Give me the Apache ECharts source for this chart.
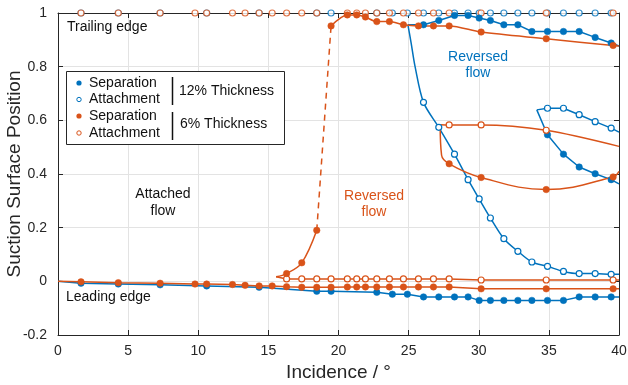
<!DOCTYPE html>
<html>
<head>
<meta charset="utf-8">
<script src="https://cdn.jsdelivr.net/npm/echarts@6/dist/echarts.min.js"></script>
<style>html,body{margin:0;padding:0;background:#fff}#c{width:628px;height:385px}</style>
</head>
<body>
<div id="c"></div>
<script>
// ---------- data ----------
const xTicks = [0, 5, 10, 15, 20, 25, 30, 35, 40];
const yTicks = [-0.2, 0, 0.2, 0.4, 0.6, 0.8, 1];

// 12% thickness (blue)
const b12SepLowX = [0, 1.64, 4.30, 7.28, 10.6, 14.34, 18.45, 19.47, 22.73, 23.84, 24.91, 26.06, 27.15, 28.27, 29.24, 30.03, 30.83, 31.79, 32.79, 33.79, 34.9, 36.04, 37.16, 38.3, 39.44, 40];
const b12SepLowY = [0, -0.007, -0.01, -0.013, -0.017, -0.022, -0.037, -0.037, -0.041, -0.048, -0.048, -0.058, -0.058, -0.058, -0.058, -0.071, -0.071, -0.071, -0.071, -0.071, -0.071, -0.071, -0.058, -0.058, -0.058, -0.058];
const b12AttTopX = [1.64, 4.30, 7.28, 10.6, 14.34, 18.45, 19.47, 22.73, 23.84, 24.91, 26.06, 27.15, 28.27, 29.24, 30.03, 30.83, 31.79, 32.79, 33.79, 34.9, 36.04, 37.16, 38.3, 39.44];
const b12AttTopY = b12AttTopX.map(() => 1);
const b12SepUpX = [24.95, 26.06, 27.15, 28.27, 29.24, 30.03, 30.83, 31.79, 32.79, 33.79, 34.9, 36.04, 37.16, 38.3, 39.44, 40];
const b12SepUpY = [0.956, 0.956, 0.972, 0.991, 0.991, 0.981, 0.972, 0.956, 0.956, 0.931, 0.931, 0.931, 0.931, 0.909, 0.888, 0.877];
const b12AttMidX = [24.95, 25.18, 25.46, 26.06, 27.15, 28.27, 29.24, 30.03, 30.83, 31.79, 32.79, 33.79, 34.9, 36.04, 37.16, 38.3, 39.44, 40];
const b12AttMidY = [0.956, 0.888, 0.80, 0.667, 0.574, 0.474, 0.379, 0.307, 0.236, 0.159, 0.112, 0.072, 0.056, 0.037, 0.029, 0.029, 0.026, 0.026];
const b12Bub2AttX = [34.14, 34.9, 36.04, 37.16, 38.3, 39.44, 40];
const b12Bub2AttY = [0.639, 0.645, 0.645, 0.621, 0.595, 0.571, 0.556];
const b12Bub2SepX = [34.14, 34.9, 36.04, 37.16, 38.3, 39.44, 40];
const b12Bub2SepY = [0.639, 0.546, 0.474, 0.426, 0.401, 0.379, 0.363];

// 6% thickness (orange)
const o6SepLowX = [0, 1.64, 4.30, 7.28, 9.77, 10.6, 12.44, 13.34, 14.34, 15.27, 16.3, 17.38, 18.45, 19.47, 20.63, 21.3, 21.92, 22.73, 23.63, 24.63, 25.7, 26.77, 27.89, 30.17, 34.81, 39.58, 40];
const o6SepLowY = [0, -0.002, -0.005, -0.007, -0.01, -0.01, -0.012, -0.015, -0.017, -0.017, -0.02, -0.022, -0.022, -0.022, -0.021, -0.021, -0.021, -0.021, -0.021, -0.021, -0.021, -0.021, -0.021, -0.028, -0.028, -0.028, -0.028];
const o6AttTopX = [1.64, 4.30, 7.28, 9.77, 10.6, 12.44, 13.34, 14.34, 15.27, 16.3, 17.38, 18.45, 20.63, 21.3, 21.92, 22.73, 23.63, 24.63, 25.7, 26.77, 27.89, 30.17, 34.81, 39.58];
const o6AttTopY = o6AttTopX.map(() => 1);
const o6BubX = [15.55, 16.3, 17.38, 18.45];
const o6BubY = [0.017, 0.029, 0.069, 0.19];
const o6JumpX = [18.45, 19.47];
const o6JumpY = [0.19, 0.952];
const o6SepUpX = [19.47, 20.63, 21.3, 21.92, 22.73, 23.63, 24.63, 25.7, 26.77, 27.89, 30.17, 34.81, 39.58, 40];
const o6SepUpY = [0.952, 0.993, 0.993, 0.985, 0.968, 0.968, 0.956, 0.952, 0.952, 0.952, 0.929, 0.904, 0.879, 0.877];
const o6AttLowX = [15.55, 16.3, 17.38, 18.45, 19.47, 20.63, 21.3, 21.92, 22.73, 23.63, 24.63, 25.7, 26.77, 27.89, 30.17, 34.81, 39.58, 40];
const o6AttLowY = [0.017, 0.009, 0.009, 0.009, 0.009, 0.009, 0.009, 0.009, 0.009, 0.009, 0.009, 0.009, 0.009, 0.009, 0.005, 0.005, 0.005, 0.005];
const o6MidAttX = [27.25, 27.89, 30.17, 34.81, 40];
const o6MidAttY = [0.584, 0.583, 0.583, 0.563, 0.503];
const o6MidSepX = [27.25, 27.35, 27.89, 30.17, 34.81, 39.58, 40];
const o6MidSepY = [0.584, 0.47, 0.438, 0.387, 0.342, 0.389, 0.41];

// ---------- styling ----------
const BLUE = '#0072BD', ORANGE = '#D95319', INK = '#262626';
const FONT = '"Liberation Sans", Arial, Helvetica, sans-serif';

function pts(xs, ys, hidden) {
  return xs.map((x, i) => {
    const d = { value: [x, ys[i]] };
    if (hidden && hidden.includes(i)) d.symbolSize = 0;
    return d;
  });
}
function lineSeries(xs, ys, color, filled, hidden, opts) {
  return Object.assign({
    type: 'line',
    data: pts(xs, ys, hidden),
    symbol: 'circle',
    symbolSize: filled ? 6.5 : 6,
    showAllSymbol: true,
    clip: false,
    lineStyle: { color: color, width: 1.5 },
    itemStyle: filled ? { color: color, borderColor: color, borderWidth: 0.5 }
                      : { color: '#fff', borderColor: color, borderWidth: 1.2 },
    emphasis: { disabled: true },
    silent: true
  }, opts || {});
}
function dotSeries(xs, ys, color) {
  return {
    type: 'scatter', data: pts(xs, ys), symbol: 'circle', symbolSize: 6, clip: false,
    itemStyle: { color: '#fff', borderColor: color, borderWidth: 1.2 },
    emphasis: { disabled: true }, silent: true
  };
}
const last = a => a.length - 1;

const series = [
  lineSeries(b12SepLowX, b12SepLowY, BLUE, true, [0, last(b12SepLowX)]),
  dotSeries(b12AttTopX, b12AttTopY, BLUE),
  lineSeries(b12SepUpX, b12SepUpY, BLUE, true, [0, last(b12SepUpX)]),
  lineSeries(b12AttMidX, b12AttMidY, BLUE, false, [0, 1, 2, last(b12AttMidX)], { smooth: 0.3 }),
  lineSeries(b12Bub2AttX, b12Bub2AttY, BLUE, false, [0, last(b12Bub2AttX)]),
  lineSeries(b12Bub2SepX, b12Bub2SepY, BLUE, true, [0, last(b12Bub2SepX)]),

  lineSeries(o6SepLowX, o6SepLowY, ORANGE, true, [0, last(o6SepLowX)]),
  dotSeries(o6AttTopX, o6AttTopY, ORANGE),
  lineSeries(o6AttLowX, o6AttLowY, ORANGE, false, [0, last(o6AttLowX)]),
  lineSeries(o6BubX, o6BubY, ORANGE, true, [0], { smooth: 0.35 }),
  lineSeries(o6JumpX, o6JumpY, ORANGE, true, [0, 1], { lineStyle: { color: ORANGE, width: 1.5, type: [6, 5] } }),
  lineSeries(o6SepUpX, o6SepUpY, ORANGE, true, [last(o6SepUpX)], { smooth: 0.3 }),
  lineSeries(o6MidAttX, o6MidAttY, ORANGE, false, [0, last(o6MidAttX)], { smooth: 0.3 }),
  lineSeries(o6MidSepX, o6MidSepY, ORANGE, true, [0, 1, last(o6MidSepX)], { smooth: 0.4 })
];

function axisCommon() {
  return {
    axisLine: { show: true, onZero: false, lineStyle: { color: INK, width: 1 } },
    axisTick: { show: true, inside: true, length: 5, lineStyle: { color: INK, width: 1 } }
  };
}

const grid = { left: 58, right: 9, top: 13, bottom: 50, show: false, containLabel: false, outerBoundsMode: 'none' };

const option = {
  animation: false,
  backgroundColor: '#fff',
  textStyle: { fontFamily: FONT },
  grid: grid,
  xAxis: [
    Object.assign(axisCommon(), {
      type: 'value', min: xTicks[0], max: xTicks[xTicks.length - 1], interval: 5, position: 'bottom',
      axisLabel: { color: INK, fontSize: 14, margin: 9, fontFamily: FONT },
      splitLine: { show: true, lineStyle: { color: '#e3e3e3', width: 1 } },
      name: 'Incidence / °', nameLocation: 'middle', nameGap: 24,
      nameTextStyle: { color: INK, fontSize: 19, fontFamily: FONT }
    }),
    Object.assign(axisCommon(), {
      type: 'value', min: xTicks[0], max: xTicks[xTicks.length - 1], interval: 5, position: 'top',
      axisLabel: { show: false }, splitLine: { show: false }
    })
  ],
  yAxis: [
    Object.assign(axisCommon(), {
      type: 'value', min: yTicks[0], max: yTicks[yTicks.length - 1], interval: 0.2, position: 'left',
      axisLabel: { color: INK, fontSize: 14, margin: 11, fontFamily: FONT,
        formatter: v => String(+v.toFixed(1)) },
      splitLine: { show: true, lineStyle: { color: '#e3e3e3', width: 1 } },
      name: 'Suction Surface Position', nameLocation: 'middle', nameGap: 34,
      nameTextStyle: { color: INK, fontSize: 19, fontFamily: FONT, verticalAlign: 'middle' }
    }),
    Object.assign(axisCommon(), {
      type: 'value', min: yTicks[0], max: yTicks[yTicks.length - 1], interval: 0.2, position: 'right',
      axisLabel: { show: false }, splitLine: { show: false }
    })
  ],
  series: series.map(s => Object.assign(s, { xAxisIndex: 0, yAxisIndex: 0 })),
  graphic: [
    // annotations
    { type: 'text', z: 50, style: { text: 'Trailing edge', x: 67, y: 27, fill: '#111', font: '14px ' + FONT, textVerticalAlign: 'middle' } },
    { type: 'text', z: 50, style: { text: 'Leading edge', x: 66, y: 297, fill: '#111', font: '14px ' + FONT, textVerticalAlign: 'middle' } },
    { type: 'text', z: 50, style: { text: 'Attached\nflow', x: 163, y: 203, fill: '#111', font: '14px ' + FONT, lineHeight: 17, textAlign: 'center', textVerticalAlign: 'middle' } },
    { type: 'text', z: 50, style: { text: 'Reversed\nflow', x: 374, y: 204.5, fill: ORANGE, font: '14px ' + FONT, lineHeight: 16, textAlign: 'center', textVerticalAlign: 'middle' } },
    { type: 'text', z: 50, style: { text: 'Reversed\nflow', x: 478, y: 65, fill: BLUE, font: '14px ' + FONT, lineHeight: 16, textAlign: 'center', textVerticalAlign: 'middle' } },
    // legend box
    { type: 'rect', z: 60, shape: { x: 66.5, y: 71.5, width: 218, height: 73 }, style: { fill: '#fff', stroke: INK, lineWidth: 1 } },
    { type: 'circle', z: 61, shape: { cx: 79, cy: 83, r: 2.6 }, style: { fill: BLUE } },
    { type: 'circle', z: 61, shape: { cx: 79, cy: 99.5, r: 2.2 }, style: { fill: '#fff', stroke: BLUE, lineWidth: 1 } },
    { type: 'circle', z: 61, shape: { cx: 79, cy: 116, r: 2.6 }, style: { fill: ORANGE } },
    { type: 'circle', z: 61, shape: { cx: 79, cy: 133, r: 2.2 }, style: { fill: '#fff', stroke: ORANGE, lineWidth: 1 } },
    { type: 'text', z: 61, style: { text: 'Separation', x: 89, y: 83, fill: '#111', font: '14px ' + FONT, textVerticalAlign: 'middle' } },
    { type: 'text', z: 61, style: { text: 'Attachment', x: 89, y: 99.5, fill: '#111', font: '14px ' + FONT, textVerticalAlign: 'middle' } },
    { type: 'text', z: 61, style: { text: 'Separation', x: 89, y: 116, fill: '#111', font: '14px ' + FONT, textVerticalAlign: 'middle' } },
    { type: 'text', z: 61, style: { text: 'Attachment', x: 89, y: 133, fill: '#111', font: '14px ' + FONT, textVerticalAlign: 'middle' } },
    { type: 'line', z: 61, shape: { x1: 172.5, y1: 77, x2: 172.5, y2: 105 }, style: { stroke: '#111', lineWidth: 1.5 } },
    { type: 'line', z: 61, shape: { x1: 172.5, y1: 112, x2: 172.5, y2: 140 }, style: { stroke: '#111', lineWidth: 1.5 } },
    { type: 'text', z: 61, style: { text: '12% Thickness', x: 179, y: 91.5, fill: '#111', font: '14px ' + FONT, textVerticalAlign: 'middle' } },
    { type: 'text', z: 61, style: { text: '6% Thickness', x: 180, y: 124.5, fill: '#111', font: '14px ' + FONT, textVerticalAlign: 'middle' } },
    // y-axis title
    { type: 'text', z: 50, rotation: Math.PI / 2, x: 15, y: 174, style: { text: 'Suction Surface Position', x: 0, y: 0, fill: INK, font: '19px ' + FONT, textAlign: 'center', textVerticalAlign: 'middle' } }
  ]
};
// the y-axis title is drawn as a graphic text so its position matches exactly
option.yAxis[0].name = '';

const chart = echarts.init(document.getElementById('c'), null, { renderer: 'canvas' });
chart.setOption(option);
</script>
</body>
</html>
